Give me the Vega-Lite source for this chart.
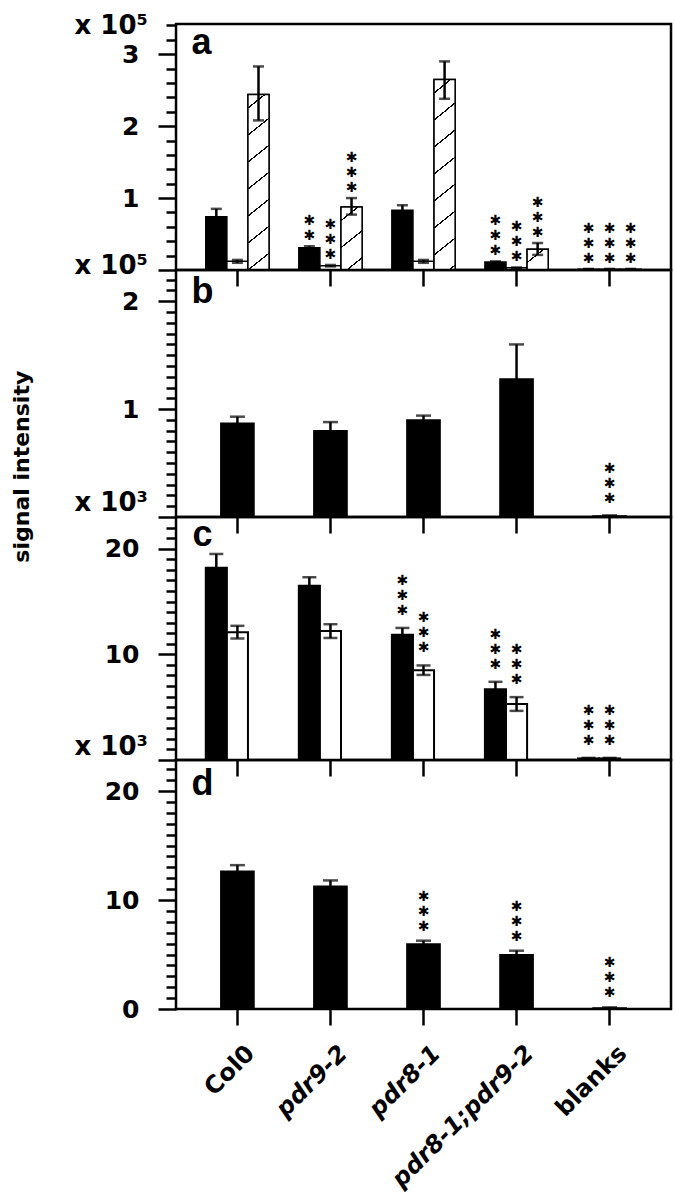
{
"$schema": "https://vega.github.io/schema/vega-lite/v6.json",
"background": "white",
"padding": {"left": 10, "top": 10, "right": 5, "bottom": 5},
"config": {
  "view": {"stroke": "black", "strokeWidth": 2.5},
  "axis": {"domain": false, "grid": false, "tickColor": "black", "labelColor": "black", "labelFont": "DejaVu Sans", "labelFontWeight": "bold", "labelFontSize": 25, "titleFont": "DejaVu Sans", "titleFontWeight": "bold", "titleFontSize": 26, "titleColor": "black"},
  "title": {"font": "DejaVu Sans", "fontWeight": "bold", "color": "black"}
},
"title": {"text": "signal intensity", "orient": "left", "anchor": "middle", "frame": "bounds", "fontSize": 22, "font": "DejaVu Sans", "fontWeight": "bold", "dx": 135, "dy": -29, "offset": 10},
"datasets": {
  "a": [
    {"genotype": "Col0", "type": "black", "value": 0.74, "lo": 0.63, "hi": 0.85, "n": 0},
    {"genotype": "Col0", "type": "white", "value": 0.12, "lo": 0.10, "hi": 0.14, "n": 0},
    {"genotype": "Col0", "type": "hatched", "value": 2.44, "lo": 2.08, "hi": 2.83, "n": 0},
    {"genotype": "pdr9-2", "type": "black", "value": 0.31, "lo": 0.29, "hi": 0.33, "n": 2},
    {"genotype": "pdr9-2", "type": "white", "value": 0.06, "lo": 0.05, "hi": 0.07, "n": 3},
    {"genotype": "pdr9-2", "type": "hatched", "value": 0.875, "lo": 0.77, "hi": 1.0, "n": 3},
    {"genotype": "pdr8-1", "type": "black", "value": 0.83, "lo": 0.76, "hi": 0.90, "n": 0},
    {"genotype": "pdr8-1", "type": "white", "value": 0.12, "lo": 0.10, "hi": 0.14, "n": 0},
    {"genotype": "pdr8-1", "type": "hatched", "value": 2.65, "lo": 2.38, "hi": 2.90, "n": 0},
    {"genotype": "pdr8-1;pdr9-2", "type": "black", "value": 0.11, "lo": 0.10, "hi": 0.12, "n": 3},
    {"genotype": "pdr8-1;pdr9-2", "type": "white", "value": 0.03, "lo": 0.025, "hi": 0.035, "n": 3},
    {"genotype": "pdr8-1;pdr9-2", "type": "hatched", "value": 0.29, "lo": 0.21, "hi": 0.375, "n": 3},
    {"genotype": "blanks", "type": "black", "value": 0.01, "lo": 0.005, "hi": 0.015, "n": 3},
    {"genotype": "blanks", "type": "white", "value": 0.01, "lo": 0.005, "hi": 0.015, "n": 3},
    {"genotype": "blanks", "type": "hatched", "value": 0.01, "lo": 0.005, "hi": 0.015, "n": 3}
  ],
  "b": [
    {"genotype": "Col0", "value": 0.87, "lo": 0.81, "hi": 0.93, "n": 0},
    {"genotype": "pdr9-2", "value": 0.80, "lo": 0.72, "hi": 0.88, "n": 0},
    {"genotype": "pdr8-1", "value": 0.90, "lo": 0.86, "hi": 0.94, "n": 0},
    {"genotype": "pdr8-1;pdr9-2", "value": 1.28, "lo": 0.96, "hi": 1.60, "n": 0},
    {"genotype": "blanks", "value": 0.01, "lo": 0.005, "hi": 0.015, "n": 3}
  ],
  "c": [
    {"genotype": "Col0", "type": "black", "value": 18.2, "lo": 16.9, "hi": 19.5, "n": 0},
    {"genotype": "Col0", "type": "white", "value": 12.1, "lo": 11.5, "hi": 12.7, "n": 0},
    {"genotype": "pdr9-2", "type": "black", "value": 16.5, "lo": 15.7, "hi": 17.3, "n": 0},
    {"genotype": "pdr9-2", "type": "white", "value": 12.2, "lo": 11.55, "hi": 12.85, "n": 0},
    {"genotype": "pdr8-1", "type": "black", "value": 11.85, "lo": 11.2, "hi": 12.5, "n": 3},
    {"genotype": "pdr8-1", "type": "white", "value": 8.5, "lo": 8.05, "hi": 8.95, "n": 3},
    {"genotype": "pdr8-1;pdr9-2", "type": "black", "value": 6.7, "lo": 6.0, "hi": 7.4, "n": 3},
    {"genotype": "pdr8-1;pdr9-2", "type": "white", "value": 5.3, "lo": 4.65, "hi": 5.95, "n": 3},
    {"genotype": "blanks", "type": "black", "value": 0.15, "lo": 0.1, "hi": 0.2, "n": 3},
    {"genotype": "blanks", "type": "white", "value": 0.15, "lo": 0.1, "hi": 0.2, "n": 3}
  ],
  "d": [
    {"genotype": "Col0", "value": 12.65, "lo": 12.1, "hi": 13.2, "n": 0},
    {"genotype": "pdr9-2", "value": 11.27, "lo": 10.77, "hi": 11.8, "n": 0},
    {"genotype": "pdr8-1", "value": 5.96, "lo": 5.65, "hi": 6.27, "n": 3},
    {"genotype": "pdr8-1;pdr9-2", "value": 4.98, "lo": 4.6, "hi": 5.35, "n": 3},
    {"genotype": "blanks", "value": 0.1, "lo": 0.05, "hi": 0.15, "n": 3}
  ]
},
"spacing": 0,
"bounds": "flush",
"vconcat": [
{
  "width": 495, "height": 246,
  "data": {"name": "a"},
  "encoding": {
    "x": {"field": "genotype", "type": "nominal", "scale": {"domain": ["Col0", "pdr9-2", "pdr8-1", "pdr8-1;pdr9-2", "blanks"], "paddingInner": 0.32, "paddingOuter": 0.32},
          "axis": {"title": "a", "titleX": 15, "titleY": -217, "titleAlign": "left", "titleAnchor": "start", "titleBaseline": "alphabetic", "titleAngle": 0, "titleFont": "Liberation Sans", "titleFontSize": 36, "labels": false, "tickSize": 16, "tickWidth": 2.5}},
    "xOffset": {"field": "type", "type": "nominal", "scale": {"domain": ["black", "white", "hatched"]}}
  },
  "layer": [
    {"mark": {"type": "bar", "stroke": "black", "strokeWidth": 1.5},
     "encoding": {
       "y": {"field": "value", "type": "quantitative", "scale": {"domain": [0, 3.42], "nice": false},
             "axis": {"title": "x 10⁵", "titleAngle": 0, "titleAlign": "left", "titleBaseline": "alphabetic", "titleX": -102, "titleY": 9,
                      "values": [0, 0.2, 0.4, 0.6, 0.8, 1, 1.2, 1.4, 1.6, 1.8, 2, 2.2, 2.4, 2.6, 2.8, 3, 3.2, 3.4], "tickCount": 200,
                      "format": "~g", "labelOverlap": false, "labelFlush": false,
                      "labelExpr": "datum.value > 0.5 && abs(datum.value - round(datum.value)) < 0.001 ? datum.label : ''",
                      "tickSize": {"condition": {"test": "abs(datum.value - round(datum.value)) < 0.001", "value": 18}, "value": 10},
                      "tickWidth": 2.5, "labelPadding": 19}},
       "fill": {"field": "type", "type": "nominal", "scale": {"domain": ["black", "white", "hatched"], "range": ["black", "white", "white"]}, "legend": null}
     }},
    {"transform": [{"filter": "datum.type === 'hatched' && datum.genotype === 'Col0'"}],
     "mark": {"type": "bar", "stroke": "black", "strokeWidth": 1.5, "fill": {"gradient": "linear", "x1": 0, "y1": 0, "x2": 0.1046, "y2": 1.0862, "stops": [
       {"offset": 0, "color": "white"}, {"offset": 0.0660, "color": "white"}, {"offset": 0.0660, "color": "black"}, {"offset": 0.0743, "color": "black"}, {"offset": 0.0743, "color": "white"},
       {"offset": 0.2063, "color": "white"}, {"offset": 0.2063, "color": "black"}, {"offset": 0.2147, "color": "black"}, {"offset": 0.2147, "color": "white"},
       {"offset": 0.3467, "color": "white"}, {"offset": 0.3467, "color": "black"}, {"offset": 0.3550, "color": "black"}, {"offset": 0.3550, "color": "white"},
       {"offset": 0.4870, "color": "white"}, {"offset": 0.4870, "color": "black"}, {"offset": 0.4953, "color": "black"}, {"offset": 0.4953, "color": "white"},
       {"offset": 0.6273, "color": "white"}, {"offset": 0.6273, "color": "black"}, {"offset": 0.6357, "color": "black"}, {"offset": 0.6357, "color": "white"},
       {"offset": 0.7677, "color": "white"}, {"offset": 0.7677, "color": "black"}, {"offset": 0.7760, "color": "black"}, {"offset": 0.7760, "color": "white"},
       {"offset": 0.9080, "color": "white"}, {"offset": 0.9080, "color": "black"}, {"offset": 0.9163, "color": "black"}, {"offset": 0.9163, "color": "white"},
       {"offset": 1, "color": "white"}]}},
     "encoding": {"y": {"field": "value", "type": "quantitative"}}},
    {"transform": [{"filter": "datum.type === 'hatched' && datum.genotype === 'pdr9-2'"}],
     "mark": {"type": "bar", "stroke": "black", "strokeWidth": 1.5, "fill": {"gradient": "linear", "x1": 0, "y1": 0, "x2": 0.3180, "y2": 1.1833, "stops": [
       {"offset": 0, "color": "white"}, {"offset": 0.1591, "color": "white"}, {"offset": 0.1591, "color": "black"}, {"offset": 0.1792, "color": "black"}, {"offset": 0.1792, "color": "white"},
       {"offset": 0.4975, "color": "white"}, {"offset": 0.4975, "color": "black"}, {"offset": 0.5175, "color": "black"}, {"offset": 0.5175, "color": "white"},
       {"offset": 0.8358, "color": "white"}, {"offset": 0.8358, "color": "black"}, {"offset": 0.8559, "color": "black"}, {"offset": 0.8559, "color": "white"},
       {"offset": 1, "color": "white"}]}},
     "encoding": {"y": {"field": "value", "type": "quantitative"}}},
    {"transform": [{"filter": "datum.type === 'hatched' && datum.genotype === 'pdr8-1'"}],
     "mark": {"type": "bar", "stroke": "black", "strokeWidth": 1.5, "fill": {"gradient": "linear", "x1": 0, "y1": 0, "x2": 0.0958, "y2": 1.0802, "stops": [
       {"offset": 0, "color": "white"}, {"offset": 0.0612, "color": "white"}, {"offset": 0.0612, "color": "black"}, {"offset": 0.0689, "color": "black"}, {"offset": 0.0689, "color": "white"},
       {"offset": 0.1913, "color": "white"}, {"offset": 0.1913, "color": "black"}, {"offset": 0.1990, "color": "black"}, {"offset": 0.1990, "color": "white"},
       {"offset": 0.3214, "color": "white"}, {"offset": 0.3214, "color": "black"}, {"offset": 0.3292, "color": "black"}, {"offset": 0.3292, "color": "white"},
       {"offset": 0.4516, "color": "white"}, {"offset": 0.4516, "color": "black"}, {"offset": 0.4593, "color": "black"}, {"offset": 0.4593, "color": "white"},
       {"offset": 0.5817, "color": "white"}, {"offset": 0.5817, "color": "black"}, {"offset": 0.5894, "color": "black"}, {"offset": 0.5894, "color": "white"},
       {"offset": 0.7118, "color": "white"}, {"offset": 0.7118, "color": "black"}, {"offset": 0.7195, "color": "black"}, {"offset": 0.7195, "color": "white"},
       {"offset": 0.8419, "color": "white"}, {"offset": 0.8419, "color": "black"}, {"offset": 0.8496, "color": "black"}, {"offset": 0.8496, "color": "white"},
       {"offset": 0.9720, "color": "white"}, {"offset": 0.9720, "color": "black"}, {"offset": 0.9798, "color": "black"}, {"offset": 0.9798, "color": "white"},
       {"offset": 1, "color": "white"}]}},
     "encoding": {"y": {"field": "value", "type": "quantitative"}}},
    {"transform": [{"filter": "datum.type === 'hatched' && datum.genotype === 'pdr8-1;pdr9-2'"}],
     "mark": {"type": "bar", "stroke": "black", "strokeWidth": 1.5, "fill": {"gradient": "linear", "x1": 0, "y1": 0, "x2": 0.8843, "y2": 1.0936, "stops": [
       {"offset": 0, "color": "white"}, {"offset": 0.3360, "color": "white"}, {"offset": 0.3360, "color": "black"}, {"offset": 0.3783, "color": "black"}, {"offset": 0.3783, "color": "white"},
       {"offset": 1, "color": "white"}]}},
     "encoding": {"y": {"field": "value", "type": "quantitative"}}},
    {"mark": {"type": "rule", "strokeWidth": 2.5, "color": "black"},
     "encoding": {"y": {"field": "lo", "type": "quantitative"}, "y2": {"field": "hi"}}},
    {"mark": {"type": "tick", "size": 11, "thickness": 2.5, "color": "black"},
     "encoding": {"y": {"field": "hi", "type": "quantitative"}}},
    {"mark": {"type": "tick", "size": 11, "thickness": 2.5, "color": "black"},
     "encoding": {"y": {"field": "lo", "type": "quantitative"}}},
    {"transform": [{"filter": "datum.n >= 1"}],
     "mark": {"type": "text", "text": "✱", "font": "DejaVu Sans", "fontWeight": "bold", "fontSize": 14, "baseline": "middle", "dy": -10, "color": "black"},
     "encoding": {"y": {"field": "hi", "type": "quantitative"}}},
    {"transform": [{"filter": "datum.n >= 2"}],
     "mark": {"type": "text", "text": "✱", "font": "DejaVu Sans", "fontWeight": "bold", "fontSize": 14, "baseline": "middle", "dy": -25, "color": "black"},
     "encoding": {"y": {"field": "hi", "type": "quantitative"}}},
    {"transform": [{"filter": "datum.n >= 3"}],
     "mark": {"type": "text", "text": "✱", "font": "DejaVu Sans", "fontWeight": "bold", "fontSize": 14, "baseline": "middle", "dy": -40, "color": "black"},
     "encoding": {"y": {"field": "hi", "type": "quantitative"}}}
  ]
},
{
  "width": 495, "height": 247,
  "data": {"name": "b"},
  "encoding": {
    "x": {"field": "genotype", "type": "nominal", "scale": {"domain": ["Col0", "pdr9-2", "pdr8-1", "pdr8-1;pdr9-2", "blanks"], "paddingInner": 0.32, "paddingOuter": 0.32},
          "axis": {"title": "b", "titleX": 15, "titleY": -215, "titleAlign": "left", "titleAnchor": "start", "titleBaseline": "alphabetic", "titleAngle": 0, "titleFont": "Liberation Sans", "titleFontSize": 36, "labels": false, "tickSize": 16, "tickWidth": 2.5}}
  },
  "layer": [
    {"mark": {"type": "bar", "color": "black", "stroke": "black", "strokeWidth": 1.5, "width": {"band": 0.524}},
     "encoding": {
       "y": {"field": "value", "type": "quantitative", "scale": {"domain": [0, 2.29], "nice": false},
             "axis": {"title": "x 10⁵", "titleAngle": 0, "titleAlign": "left", "titleBaseline": "alphabetic", "titleX": -102, "titleY": 3,
                      "values": [0, 0.1, 0.2, 0.3, 0.4, 0.5, 0.6, 0.7, 0.8, 0.9, 1, 1.1, 1.2, 1.3, 1.4, 1.5, 1.6, 1.7, 1.8, 1.9, 2, 2.1, 2.2], "tickCount": 200,
                      "format": "~g", "labelOverlap": false, "labelFlush": false,
                      "labelExpr": "datum.value > 0.5 && abs(datum.value - round(datum.value)) < 0.001 ? datum.label : ''",
                      "tickSize": {"condition": {"test": "abs(datum.value - round(datum.value)) < 0.001", "value": 18}, "value": 10},
                      "tickWidth": 2.5, "labelPadding": 19}}
     }},
    {"mark": {"type": "rule", "strokeWidth": 2.5, "color": "black"},
     "encoding": {"y": {"field": "lo", "type": "quantitative"}, "y2": {"field": "hi"}}},
    {"mark": {"type": "tick", "size": 15, "thickness": 2.5, "color": "black"},
     "encoding": {"y": {"field": "hi", "type": "quantitative"}}},
    {"transform": [{"filter": "datum.n >= 1"}],
     "mark": {"type": "text", "text": "✱", "font": "DejaVu Sans", "fontWeight": "bold", "fontSize": 14, "baseline": "middle", "dy": -16, "color": "black"},
     "encoding": {"y": {"field": "hi", "type": "quantitative"}}},
    {"transform": [{"filter": "datum.n >= 2"}],
     "mark": {"type": "text", "text": "✱", "font": "DejaVu Sans", "fontWeight": "bold", "fontSize": 14, "baseline": "middle", "dy": -31, "color": "black"},
     "encoding": {"y": {"field": "hi", "type": "quantitative"}}},
    {"transform": [{"filter": "datum.n >= 3"}],
     "mark": {"type": "text", "text": "✱", "font": "DejaVu Sans", "fontWeight": "bold", "fontSize": 14, "baseline": "middle", "dy": -46, "color": "black"},
     "encoding": {"y": {"field": "hi", "type": "quantitative"}}}
  ]
},
{
  "width": 495, "height": 243,
  "data": {"name": "c"},
  "encoding": {
    "x": {"field": "genotype", "type": "nominal", "scale": {"domain": ["Col0", "pdr9-2", "pdr8-1", "pdr8-1;pdr9-2", "blanks"], "paddingInner": 0.32, "paddingOuter": 0.32},
          "axis": {"title": "c", "titleX": 16, "titleY": -215, "titleAlign": "left", "titleAnchor": "start", "titleBaseline": "alphabetic", "titleAngle": 0, "titleFont": "Liberation Sans", "titleFontSize": 36, "labels": false, "tickSize": 16, "tickWidth": 2.5}},
    "xOffset": {"field": "type", "type": "nominal", "scale": {"domain": ["black", "white"]}}
  },
  "layer": [
    {"mark": {"type": "bar", "stroke": "black", "strokeWidth": 2},
     "encoding": {
       "y": {"field": "value", "type": "quantitative", "scale": {"domain": [0, 23], "nice": false},
             "axis": {"title": "x 10³", "titleAngle": 0, "titleAlign": "left", "titleBaseline": "alphabetic", "titleX": -102, "titleY": -7,
                      "values": [0, 1, 2, 3, 4, 5, 6, 7, 8, 9, 10, 11, 12, 13, 14, 15, 16, 17, 18, 19, 20, 21, 22], "tickCount": 200,
                      "format": "~g", "labelOverlap": false, "labelFlush": false,
                      "labelExpr": "datum.value > 5 && datum.value % 10 === 0 ? datum.label : ''",
                      "tickSize": {"condition": {"test": "datum.value % 10 === 0", "value": 18}, "value": 10},
                      "tickWidth": 2.5, "labelPadding": 19}},
       "fill": {"field": "type", "type": "nominal", "scale": {"domain": ["black", "white"], "range": ["black", "white"]}, "legend": null}
     }},
    {"mark": {"type": "rule", "strokeWidth": 2.5, "color": "black"},
     "encoding": {"y": {"field": "lo", "type": "quantitative"}, "y2": {"field": "hi"}}},
    {"mark": {"type": "tick", "size": 14, "thickness": 2.5, "color": "black"},
     "encoding": {"y": {"field": "hi", "type": "quantitative"}}},
    {"mark": {"type": "tick", "size": 14, "thickness": 2.5, "color": "black"},
     "encoding": {"y": {"field": "lo", "type": "quantitative"}}},
    {"transform": [{"filter": "datum.n >= 1"}],
     "mark": {"type": "text", "text": "✱", "font": "DejaVu Sans", "fontWeight": "bold", "fontSize": 14, "baseline": "middle", "dy": -17, "color": "black"},
     "encoding": {"y": {"field": "hi", "type": "quantitative"}}},
    {"transform": [{"filter": "datum.n >= 2"}],
     "mark": {"type": "text", "text": "✱", "font": "DejaVu Sans", "fontWeight": "bold", "fontSize": 14, "baseline": "middle", "dy": -32, "color": "black"},
     "encoding": {"y": {"field": "hi", "type": "quantitative"}}},
    {"transform": [{"filter": "datum.n >= 3"}],
     "mark": {"type": "text", "text": "✱", "font": "DejaVu Sans", "fontWeight": "bold", "fontSize": 14, "baseline": "middle", "dy": -47, "color": "black"},
     "encoding": {"y": {"field": "hi", "type": "quantitative"}}}
  ]
},
{
  "width": 495, "height": 249,
  "data": {"name": "d"},
  "encoding": {
    "x": {"field": "genotype", "type": "nominal", "scale": {"domain": ["Col0", "pdr9-2", "pdr8-1", "pdr8-1;pdr9-2", "blanks"], "paddingInner": 0.32, "paddingOuter": 0.32},
          "axis": {"title": "d", "titleX": 15, "titleY": -215, "titleAlign": "left", "titleAnchor": "start", "titleBaseline": "alphabetic", "titleAngle": 0, "titleFont": "Liberation Sans", "titleFontSize": 36,
                   "tickSize": 16, "tickWidth": 2.5, "labelAngle": -45, "labelAlign": "right", "labelBaseline": "top", "labelPadding": 16, "labelOffset": 5, "labelFontSize": 24, "labelLimit": 400,
                   "labelFontStyle": {"condition": {"test": "datum.value === 'Col0' || datum.value === 'blanks'", "value": "normal"}, "value": "italic"}}}
  },
  "layer": [
    {"mark": {"type": "bar", "color": "black", "stroke": "black", "strokeWidth": 1.5, "width": {"band": 0.524}},
     "encoding": {
       "y": {"field": "value", "type": "quantitative", "scale": {"domain": [0, 22.85], "nice": false},
             "axis": {"title": "x 10³", "titleAngle": 0, "titleAlign": "left", "titleBaseline": "alphabetic", "titleX": -102, "titleY": -6,
                      "values": [0, 1, 2, 3, 4, 5, 6, 7, 8, 9, 10, 11, 12, 13, 14, 15, 16, 17, 18, 19, 20, 21, 22], "tickCount": 200,
                      "format": "~g", "labelOverlap": false, "labelFlush": false,
                      "labelExpr": "datum.value % 10 === 0 ? datum.label : ''",
                      "tickSize": {"condition": {"test": "datum.value % 10 === 0", "value": 18}, "value": 10},
                      "tickWidth": 2.5, "labelPadding": 19}}
     }},
    {"mark": {"type": "rule", "strokeWidth": 2.5, "color": "black"},
     "encoding": {"y": {"field": "lo", "type": "quantitative"}, "y2": {"field": "hi"}}},
    {"mark": {"type": "tick", "size": 15, "thickness": 2.5, "color": "black"},
     "encoding": {"y": {"field": "hi", "type": "quantitative"}}},
    {"transform": [{"filter": "datum.n >= 1"}],
     "mark": {"type": "text", "text": "✱", "font": "DejaVu Sans", "fontWeight": "bold", "fontSize": 14, "baseline": "middle", "dy": -14, "color": "black"},
     "encoding": {"y": {"field": "hi", "type": "quantitative"}}},
    {"transform": [{"filter": "datum.n >= 2"}],
     "mark": {"type": "text", "text": "✱", "font": "DejaVu Sans", "fontWeight": "bold", "fontSize": 14, "baseline": "middle", "dy": -29, "color": "black"},
     "encoding": {"y": {"field": "hi", "type": "quantitative"}}},
    {"transform": [{"filter": "datum.n >= 3"}],
     "mark": {"type": "text", "text": "✱", "font": "DejaVu Sans", "fontWeight": "bold", "fontSize": 14, "baseline": "middle", "dy": -44, "color": "black"},
     "encoding": {"y": {"field": "hi", "type": "quantitative"}}}
  ]
}
]
}
